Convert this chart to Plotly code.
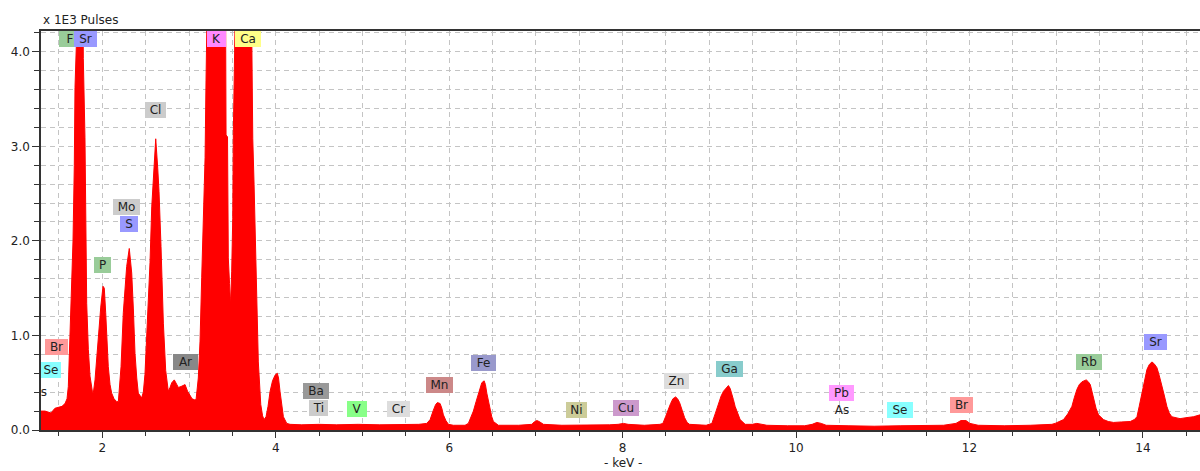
import plotly.graph_objects as go

# ---------------- data ----------------
energy_kev = [
    1.293, 1.339, 1.374, 1.408, 1.454, 1.489, 1.535, 1.570, 1.593, 1.608,
    1.627, 1.647, 1.662, 1.677, 1.685, 1.700, 1.708, 1.777, 1.781, 1.800,
    1.820, 1.839, 1.858, 1.885, 1.896,
    1.916, 1.954, 1.982, 2.008, 2.023, 2.039, 2.054, 2.069, 2.089, 2.108,
    2.135, 2.166, 2.185,
    2.201, 2.216, 2.242, 2.262, 2.281, 2.311, 2.339, 2.358, 2.377, 2.397,
    2.415, 2.454, 2.473,
    2.492, 2.524, 2.550, 2.570, 2.588, 2.600, 2.616, 2.639, 2.654, 2.677,
    2.704, 2.731, 2.761,
    2.781, 2.801, 2.830, 2.850, 2.877, 2.908, 2.954, 2.983, 3.012, 3.035,
    3.061, 3.081,
    3.107, 3.127, 3.146, 3.165, 3.185, 3.196, 3.204, 3.211, 3.421, 3.427,
    3.444, 3.453, 3.467, 3.479,
    3.492, 3.504, 3.511, 3.531, 3.536, 3.719, 3.723, 3.735, 3.750, 3.761,
    3.781, 3.799, 3.827, 3.848, 3.865, 3.888, 3.911, 3.935, 3.963, 3.992,
    4.018, 4.032, 4.049, 4.069, 4.088, 4.127, 4.165,
    4.30, 4.50, 4.70, 4.95, 5.20, 5.45, 5.65,
    5.742, 5.780, 5.818, 5.844, 5.864, 5.895, 5.915, 5.933, 5.962, 5.991,
    6.048,
    6.183, 6.221, 6.252, 6.279, 6.310, 6.337, 6.376, 6.403, 6.418, 6.434,
    6.453, 6.471, 6.491, 6.510, 6.567,
    6.80, 6.91, 6.953, 6.980, 7.011, 7.037, 7.087, 7.30, 7.60, 7.85,
    7.948, 8.009, 8.064, 8.25,
    8.430, 8.464, 8.495, 8.522, 8.553, 8.580, 8.611, 8.634, 8.657, 8.686,
    8.715, 8.744, 8.772, 8.963,
    9.029, 9.067, 9.105, 9.136, 9.163, 9.194, 9.220, 9.240, 9.259, 9.278,
    9.297, 9.326, 9.355, 9.413, 9.494, 9.548, 9.598, 9.663, 9.90, 10.10,
    10.186, 10.240, 10.290, 10.347, 10.60, 10.90, 11.20, 11.50, 11.70,
    11.844, 11.901, 11.959, 12.005, 12.10, 12.40, 12.70, 12.95,
    12.988, 13.046, 13.084, 13.133, 13.181, 13.208, 13.239, 13.266, 13.297,
    13.346, 13.370, 13.393, 13.412, 13.430, 13.459, 13.488, 13.517, 13.545,
    13.600, 13.661, 13.750, 13.854,
    13.900, 13.931, 13.957, 13.988, 14.015, 14.046, 14.072, 14.103, 14.130,
    14.161, 14.187, 14.218, 14.245, 14.276, 14.303, 14.333, 14.383, 14.428,
    14.496, 14.581, 14.658,
]

pulses_k = [
    0.20, 0.20, 0.19, 0.18, 0.23, 0.24, 0.25, 0.28, 0.33, 0.46,
    1.05, 1.48, 2.00, 2.80, 3.62, 4.05, 4.60, 4.60, 3.93, 3.09,
    1.34, 0.85, 0.57, 0.41, 0.39,
    0.53, 0.99, 1.30, 1.52, 1.50, 1.24, 0.95, 0.67, 0.48, 0.39,
    0.33, 0.30, 0.30,
    0.45, 0.67, 1.24, 1.50, 1.73, 1.92, 1.66, 1.28, 0.81, 0.55,
    0.39, 0.34, 0.40,
    0.59, 1.20, 1.77, 2.36, 2.62, 2.73, 3.08, 2.77, 2.52, 1.94,
    1.13, 0.63, 0.41,
    0.45, 0.50, 0.53, 0.50, 0.45, 0.46, 0.48, 0.41, 0.36, 0.33,
    0.32, 0.32,
    0.55, 0.94, 1.61, 2.20, 2.88, 3.70, 4.07, 4.60, 4.60, 3.12,
    3.10, 1.82, 1.55, 1.32,
    1.68, 2.24, 3.15, 4.10, 4.60, 4.60, 4.05, 3.08, 2.60, 2.10,
    1.43, 0.72, 0.27, 0.15, 0.11, 0.14, 0.25, 0.41, 0.52, 0.58,
    0.60, 0.55, 0.41, 0.25, 0.14, 0.07, 0.06,
    0.055, 0.06, 0.055, 0.06, 0.055, 0.055, 0.06,
    0.07, 0.11, 0.21, 0.27, 0.29, 0.28, 0.23, 0.16, 0.10, 0.06,
    0.05,
    0.05, 0.07, 0.13, 0.20, 0.30, 0.39, 0.50, 0.52, 0.48, 0.39,
    0.30, 0.21, 0.14, 0.09, 0.05,
    0.05, 0.055, 0.06, 0.085, 0.10, 0.09, 0.06, 0.05, 0.05, 0.055,
    0.06, 0.07, 0.06, 0.05,
    0.06, 0.07, 0.14, 0.21, 0.28, 0.33, 0.35, 0.33, 0.29, 0.21,
    0.13, 0.08, 0.06, 0.05,
    0.07, 0.17, 0.29, 0.36, 0.41, 0.45, 0.47, 0.44, 0.39, 0.32,
    0.25, 0.17, 0.11, 0.06, 0.06, 0.07, 0.06, 0.05, 0.045, 0.045,
    0.06, 0.08, 0.07, 0.05, 0.045, 0.04, 0.045, 0.045, 0.05,
    0.07, 0.10, 0.10, 0.07, 0.05, 0.045, 0.05, 0.06,
    0.07, 0.09, 0.11, 0.17, 0.25, 0.34, 0.43, 0.48, 0.51,
    0.53, 0.51, 0.48, 0.41, 0.32, 0.23, 0.16, 0.13, 0.11,
    0.09, 0.08, 0.085, 0.09,
    0.11, 0.14, 0.25, 0.39, 0.52, 0.64, 0.69, 0.72, 0.70,
    0.66, 0.58, 0.48, 0.37, 0.25, 0.18, 0.14, 0.13, 0.12,
    0.13, 0.14, 0.16,
]

label_text = ["F", "Sr", "K", "Ca", "Cl", "Mo", "S", "P", "Br", "Se", "s",
              "Ar", "Ba", "Ti", "V", "Cr", "Mn", "Fe", "Ni", "Cu", "Zn", "Ga",
              "Pb", "As", "Se", "Br", "Rb", "Sr"]
label_kev = [1.627, 1.806, 3.317, 3.681, 2.614, 2.281, 2.302, 1.997, 1.472,
             1.408, 1.333, 2.954, 4.459, 4.494, 4.934, 5.411, 5.892, 6.393,
             7.467, 8.037, 8.625, 9.232, 10.528, 10.528, 11.204, 11.904,
             13.375, 14.145]
label_height = [4.134, 4.134, 4.134, 4.134, 3.384, 2.362, 2.180, 1.750, 0.880,
                0.637, 0.405, 0.722, 0.415, 0.228, 0.220, 0.225, 0.471, 0.708,
                0.209, 0.236, 0.521, 0.648, 0.387, 0.207, 0.207, 0.260,
                0.722, 0.928]
label_color = ["#99cc99", "#9999ff", "#ff88ff", "#ffff88", "#cccccc",
               "#cccccc", "#9999ff", "#99cc99", "#ff9999", "#88ffff",
               "rgba(0,0,0,0)", "#888888", "#999999", "#cccccc", "#88ff88",
               "#dddddd", "#cc8888", "#9999cc", "#cccc99", "#cc99cc",
               "#dddddd", "#88cccc", "#ff99ff", "rgba(0,0,0,0)", "#88ffff",
               "#ff9999", "#99cc99", "#9999ff"]
label_width = [22, 23, 19, 26, 21, 27, 18, 17, 23, 20, 10, 25, 26, 19, 20,
               23, 27, 25, 21, 26, 25, 27, 25, 20, 26, 23, 26, 23]

x_range = [1.293, 14.658]
y_range = [0.0, 4.22]

FONT = "DejaVu Sans"

fig = go.Figure()
fig.add_trace(go.Scatter(
    x=energy_kev, y=pulses_k, mode="lines", fill="tozeroy",
    line=dict(color="#ff0000", width=1), fillcolor="#ff0000",
    hoverinfo="skip", showlegend=False,
))

for t, xk, yk, c, w in zip(label_text, label_kev, label_height, label_color, label_width):
    fig.add_annotation(
        x=xk, y=yk, xref="x", yref="y", text=t, showarrow=False,
        bgcolor=c, width=w, height=16, borderpad=0, borderwidth=0,
        font=dict(family=FONT, size=12, color="#222222"),
        xanchor="center", yanchor="middle",
    )

fig.add_annotation(
    xref="paper", yref="paper", x=0, y=1.0276, xanchor="left", yanchor="middle",
    text="x 1E3 Pulses", showarrow=False,
    font=dict(family=FONT, size=12, color="#222222"),
)
fig.add_annotation(
    xref="paper", yref="paper", x=0.502, y=-0.083, xanchor="center", yanchor="middle",
    text="- keV -", showarrow=False,
    font=dict(family=FONT, size=12, color="#222222"),
)

grid_col = "#c4c4c4"
fig.update_xaxes(
    range=x_range, tick0=0, dtick=2, ticks="outside", ticklen=6,
    tickcolor="#333333", tickwidth=1,
    showline=True, linecolor="#333333", linewidth=1.5, mirror=True,
    showgrid=True, gridcolor=grid_col, griddash="5px,4px", gridwidth=1,
    zeroline=False,
    tickfont=dict(family=FONT, size=12, color="#222222"),
    minor=dict(dtick=0.5, tick0=0, ticks="outside", ticklen=4,
               tickcolor="#333333", showgrid=True, gridcolor=grid_col,
               griddash="5px,4px", gridwidth=1),
)
fig.update_yaxes(
    range=y_range, tick0=0, dtick=1.0, tickformat=".1f", ticks="outside",
    ticklen=7, tickcolor="#333333", tickwidth=1,
    showline=True, linecolor="#333333", linewidth=1.5,
    showgrid=True, gridcolor=grid_col, griddash="5px,4px", gridwidth=1,
    zeroline=False,
    tickfont=dict(family=FONT, size=12, color="#222222"),
    minor=dict(dtick=0.2, tick0=0, ticks="outside", ticklen=5,
               tickcolor="#333333", showgrid=True, gridcolor=grid_col,
               griddash="5px,4px", gridwidth=1),
)

fig.update_layout(
    width=1200, height=471,
    margin=dict(l=41, r=0, t=31, b=41, pad=0),
    paper_bgcolor="white", plot_bgcolor="white",
    showlegend=False,
)

fig.write_html("out.html", config={"displayModeBar": False})
